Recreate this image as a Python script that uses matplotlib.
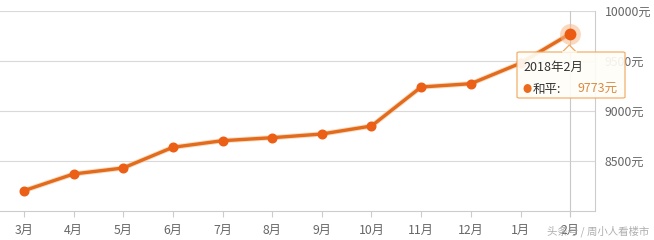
import matplotlib
matplotlib.use("Agg")
import matplotlib.pyplot as plt
from matplotlib.patches import FancyBboxPatch, Polygon

plt.rcParams['font.family'] = ['Noto Sans CJK SC', 'DejaVu Sans']

months = ['3月', '4月', '5月', '6月', '7月', '8月', '9月', '10月', '11月', '12月', '1月', '2月']
prices = [8203, 8370, 8430, 8637, 8703, 8733, 8770, 8850, 9240, 9273, 9478, 9773]
yticks = [8500, 9000, 9500, 10000]
series_name = '和平'
tooltip_title = '2018年2月'
watermark = '头条号 / 周小人看楼市'

W, H = 654, 240
fig = plt.figure(figsize=(W / 100, H / 100), dpi=100)
ax = fig.add_axes([-1 / W, (H - 211) / H, 596 / W, 200 / H])

x = list(range(len(months)))
ax.plot(x, prices, color='#f6c79c', lw=3.8, alpha=0.6, zorder=2, solid_capstyle='round')
ax.plot(x, prices, color='#e26b1d', lw=2.4, zorder=3, marker='o', ms=6.2,
        mfc='#ec5f16', mec='#ec5f16', solid_joinstyle='round')
# highlighted last point
ax.plot([x[-1]], [prices[-1]], 'o', ms=15, color='#f7b98a', alpha=0.55, zorder=4, mec='none')
ax.plot([x[-1]], [prices[-1]], 'o', ms=8.5, color='#ec5a12', zorder=5, mec='none')

ax.set_xlim(-0.5, len(months) - 0.5)
ax.set_ylim(8000, 10000)
ax.set_xticks(x)
ax.set_xticklabels(months)
ax.set_yticks(yticks)
ax.set_yticklabels([f'{v}元' for v in yticks])
ax.yaxis.tick_right()
ax.grid(axis='y', color='#d9d9d9', lw=0.8)
ax.set_axisbelow(True)
# crosshair at hovered point
ax.axvline(x[-1], ymin=0, ymax=1, color='#c8c8c8', lw=0.8, zorder=1)
ax.plot([x[-1], x[-1]], [8000, 7950], color='#c8c8c8', lw=0.8, clip_on=False)

for s in ['top', 'left']:
    ax.spines[s].set_visible(False)
ax.spines['bottom'].set_color('#cccccc')
ax.spines['right'].set_color('#cccccc')
ax.spines['bottom'].set_linewidth(0.8)
ax.spines['right'].set_linewidth(0.8)
ax.tick_params(axis='y', length=0, pad=7, labelsize=8.8, labelcolor='#666666')
ax.tick_params(axis='x', length=4, width=0.8, color='#cccccc', pad=5, labelsize=8.8, labelcolor='#666666')

# tooltip (pixel coordinates converted to figure fractions)
def fx(px):
    return px / W

def fy(py):
    return (H - py) / H

box = FancyBboxPatch((fx(517), fy(98)), fx(625) - fx(517), fy(52) - fy(98),
                     boxstyle='round,pad=0,rounding_size=0.004', transform=fig.transFigure,
                     facecolor='#fffdf7', edgecolor='#f0a860', lw=0.9, alpha=0.92, zorder=10)
fig.add_artist(box)
arrow = Polygon([[fx(562), fy(52.3)], [fx(569.3), fy(45)], [fx(576.5), fy(52.3)]],
                closed=True, transform=fig.transFigure, facecolor='#fffdf7',
                edgecolor='#f0a860', lw=0.9, zorder=11)
fig.add_artist(arrow)
fig.add_artist(plt.Line2D([fx(562.6), fx(575.9)], [fy(52.3), fy(52.3)], transform=fig.transFigure,
                          color='#fffdf7', lw=1.2, zorder=12))
fig.text(fx(523), fy(67), tooltip_title, fontsize=9, color='#333333', va='center', ha='left', zorder=13)
fig.text(fx(527), fy(89.5), '●', fontsize=6.5, color='#ec6a1e', va='center', ha='center', zorder=13)
fig.text(fx(533), fy(89), f'{series_name}:', fontsize=9, color='#333333', va='center', ha='left', zorder=13)
fig.text(fx(618), fy(89), f'{prices[-1]}元', fontsize=9, color='#d98c45', va='center', ha='right', zorder=13)

# watermark
fig.text(fx(649), fy(231), watermark, fontsize=7.5, color='#9a9a9a', alpha=0.8,
         va='center', ha='right', style='italic', zorder=14)

fig.savefig('out.png', dpi=100)
